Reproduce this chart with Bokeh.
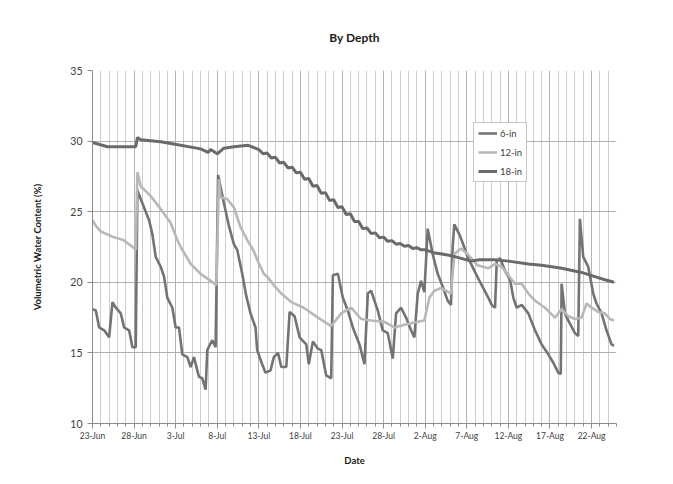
from bokeh.plotting import figure
from bokeh.models import FixedTicker, Legend, LegendItem
from bokeh.embed import file_html
from bokeh.resources import INLINE

# Day offsets from 23-Jun, values in %
tick_days = [0, 5, 10, 15, 20, 25, 30, 35, 40, 45, 50, 55, 60]
tick_labels = ["23-Jun", "28-Jun", "3-Jul", "8-Jul", "13-Jul", "18-Jul", "23-Jul",
               "28-Jul", "2-Aug", "7-Aug", "12-Aug", "17-Aug", "22-Aug"]
y_ticks = [10, 15, 20, 25, 30, 35]

d6 = [0, 0.4, 0.8, 1.4, 2.0, 2.4, 2.8, 3.4, 3.8, 4.4, 4.8, 5.2, 5.4, 6.2, 6.8, 7.2, 7.6,
      8.2, 8.6, 9.0, 9.6, 10.0, 10.4, 10.8, 11.4, 11.8, 12.2, 12.8, 13.2, 13.6, 13.8, 14.4,
      14.8, 15.1, 15.8, 16.4, 17.0, 17.4, 18.0, 18.5, 19.0, 19.6, 19.8, 20.4, 20.8, 21.4,
      21.8, 22.3, 22.7, 23.3, 23.7, 24.3, 24.9, 25.7, 26.0, 26.5, 27.1, 27.5, 28.1, 28.7,
      28.9, 29.5, 30.1, 30.7, 31.3, 32.1, 32.7, 33.1, 33.5, 34.3, 34.9, 35.5, 36.1, 36.5,
      37.1, 37.7, 38.3, 38.7, 39.1, 39.5, 39.9, 40.3, 40.9, 41.5, 42.1, 42.7, 43.1, 43.3,
      43.5, 44.1, 44.5, 45.1, 46.1, 46.7, 47.6, 48.0, 48.4, 48.6, 49.0, 49.6, 50.2, 50.6,
      51.0, 51.6, 52.4, 53.2, 54.0, 54.8, 55.4, 56.0, 56.3, 56.4, 56.8, 57.2, 58.0, 58.4,
      58.6, 59.0, 59.6, 60.2, 60.6, 61.2, 61.8, 62.4, 62.7]
v6 = [18.1, 18.0, 16.8, 16.6, 16.1, 18.6, 18.2, 17.8, 16.8, 16.6, 15.4, 15.4, 26.5, 25.3,
      24.4, 23.4, 21.8, 21.1, 20.4, 18.9, 18.2, 16.8, 16.8, 14.9, 14.7, 14.0, 14.7, 13.3,
      13.2, 12.4, 15.2, 15.9, 15.4, 27.6, 25.6, 24.0, 22.7, 22.3, 20.6, 19.0, 17.8, 16.8,
      15.2, 14.2, 13.6, 13.75, 14.7, 15.0, 14.0, 14.0, 17.9, 17.6, 16.1, 15.6, 14.2, 15.8,
      15.3, 15.2, 13.4, 13.2, 20.5, 20.6, 18.9, 18.0, 16.8, 15.6, 14.2, 19.2, 19.4, 18.0,
      16.6, 16.4, 14.6, 17.8, 18.2, 17.5, 16.6, 16.1, 19.2, 20.1, 19.3, 23.8, 22.0, 20.6,
      19.7, 18.7, 18.4, 22.5, 24.1, 23.4, 22.8, 21.8, 20.6, 19.9, 18.9, 18.4, 18.2, 21.5,
      21.7, 20.8, 20.2, 18.9, 18.2, 18.4, 17.8, 16.6, 15.6, 14.9, 14.3, 13.6, 13.5, 19.9,
      17.8, 17.3, 16.4, 16.2, 24.5, 21.8, 21.1, 19.2, 18.5, 17.8, 16.6, 15.6, 15.5]

d12 = [0, 0.4, 1.0, 2.5, 3.7, 4.6, 5.2, 5.4, 5.8, 7.0, 8.2, 9.4, 10.2, 10.6, 11.8, 13.0,
       14.2, 14.9, 15.2, 15.4, 16.2, 17.0, 17.8, 18.6, 19.4, 19.8, 20.6, 21.0, 21.8, 22.7,
       23.9, 25.4, 27.1, 28.7, 29.9, 31.1, 32.3, 33.5, 35.1, 36.3, 37.5, 39.1, 39.9, 40.5,
       41.1, 41.9, 43.1, 43.5, 44.3, 45.1, 46.3, 47.6, 48.4, 49.2, 50.0, 50.8, 51.6, 52.4,
       53.2, 54.4, 55.6, 56.4, 57.2, 58.0, 58.8, 59.4, 60.0, 60.8, 61.6, 62.2, 62.7]
v12 = [24.4, 24.0, 23.6, 23.2, 23.0, 22.6, 22.3, 27.8, 26.8, 26.1, 25.2, 24.2, 23.0, 22.5,
       21.3, 20.6, 20.1, 19.8, 27.3, 26.0, 25.9, 25.3, 23.9, 23.0, 22.2, 21.6, 20.6, 20.4,
       19.8, 19.2, 18.6, 18.2, 17.5, 16.9, 17.8, 18.2, 17.4, 17.3, 17.2, 16.8, 17.0, 17.2,
       17.3, 18.9, 19.4, 19.6, 19.2, 22.0, 22.4, 22.0, 21.2, 21.0, 21.3, 21.1, 20.5, 19.9,
       19.9, 19.2, 18.7, 18.2, 17.5, 18.1, 17.6, 17.4, 17.5, 18.5, 18.2, 17.9, 17.8, 17.4,
       17.3]

d18 = [0, 1.8, 3.4, 5.2, 5.4, 5.8, 8.2, 10.6, 13.0, 13.9, 14.2, 15.0, 15.8, 17.0, 18.7,
       20.0, 20.5, 21.0, 21.5, 22.0, 22.5, 23.0, 23.5, 24.0, 24.5, 25.0, 25.5, 26.0, 26.5,
       27.0, 27.5, 28.0, 28.5, 29.0, 29.5, 30.0, 30.5, 31.0, 31.5, 32.0, 32.5, 33.0, 33.5,
       34.0, 34.5, 35.0, 35.5, 36.0, 36.5, 37.0, 37.5, 38.0, 38.5, 39.0, 39.5, 40.0, 41.0,
       42.0, 43.0, 44.0, 45.5, 46.5, 48.3, 50.0, 52.4, 54.0, 56.4, 58.8, 60.4, 61.5, 62.7]
v18 = [29.9, 29.6, 29.6, 29.6, 30.25, 30.1, 29.95, 29.7, 29.45, 29.2, 29.4, 29.1, 29.5,
       29.6, 29.7, 29.4, 29.1, 29.15, 28.8, 28.85, 28.45, 28.5, 28.1, 28.15, 27.75, 27.8,
       27.3, 27.35, 26.8, 26.85, 26.3, 26.35, 25.8, 25.85, 25.3, 25.35, 24.8, 24.85, 24.3,
       24.3, 23.8, 23.85, 23.45, 23.5, 23.15, 23.2, 22.9, 22.95, 22.7, 22.75, 22.55, 22.6,
       22.4, 22.45, 22.3, 22.3, 22.1, 22.0, 21.9, 21.75, 21.5, 21.6, 21.6, 21.5, 21.3, 21.2,
       21.0, 20.7, 20.4, 20.2, 20.0]

FONT = "Lato"

p = figure(width=657, height=474, x_range=(0, 63), y_range=(10, 35),
           output_backend="svg", toolbar_location=None,
           min_border_left=92, min_border_right=41, min_border_top=70, min_border_bottom=51)

p.title.text = "By Depth"
p.title.align = "center"
p.title.text_font = FONT
p.title.text_font_size = "12px"
p.title.text_font_style = "bold"
p.title.text_color = "#1a1a1a"
p.title.standoff = 51

p.outline_line_color = None
p.background_fill_color = "white"
p.border_fill_color = "white"

p.xaxis.ticker = FixedTicker(ticks=tick_days, minor_ticks=list(range(0, 64)))
p.xaxis.major_label_overrides = {d: l for d, l in zip(tick_days, tick_labels)}
p.yaxis.ticker = FixedTicker(ticks=y_ticks)

for ax in (p.xaxis, p.yaxis):
    ax.axis_line_color = "#8c8c8c"
    ax.major_tick_line_color = "#8c8c8c"
    ax.minor_tick_line_color = "#8c8c8c"
    ax.major_tick_in = 0
    ax.major_tick_out = 5
    ax.major_label_text_font = FONT
    ax.major_label_text_color = "#404040"
    ax.axis_label_text_font = FONT
    ax.axis_label_text_font_style = "bold"
    ax.axis_label_text_color = "#1a1a1a"
    ax.axis_label_text_font_size = "9.5px"

p.xaxis.minor_tick_in = 0
p.xaxis.minor_tick_out = 3
p.yaxis.minor_tick_line_color = None
p.xaxis.major_label_text_font_size = "8.5px"
p.yaxis.major_label_text_font_size = "10.5px"
p.xaxis.major_label_standoff = 2
p.yaxis.major_label_standoff = 5
p.xaxis.axis_label = "Date"
p.yaxis.axis_label = "Volumetric Water Content (%)"
p.xaxis.axis_label_standoff = 11
p.yaxis.axis_label_standoff = 24

p.xgrid.grid_line_color = "#b4b4b4"
p.xgrid.minor_grid_line_color = "#cdcdcd"
p.ygrid.grid_line_color = "#b0b0b0"

r6 = p.line(d6, v6, line_color="#737373", line_width=2.6)
r12 = p.line(d12, v12, line_color="#b8b8b8", line_width=2.6)
r18 = p.line(d18, v18, line_color="#6a6a6a", line_width=3)

legend = Legend(items=[LegendItem(label="6-in", renderers=[r6]),
                       LegendItem(label="12-in", renderers=[r12]),
                       LegendItem(label="18-in", renderers=[r18])],
                location=(381, 241), label_text_font=FONT, label_text_font_size="9.5px",
                label_text_color="#404040", glyph_width=19, glyph_height=12, spacing=7,
                padding=4, margin=0, label_standoff=3, border_line_color="#8c8c8c",
                background_fill_color="white", background_fill_alpha=1)
p.add_layout(legend, "center")

open("out.html", "w").write(file_html(p, INLINE))
